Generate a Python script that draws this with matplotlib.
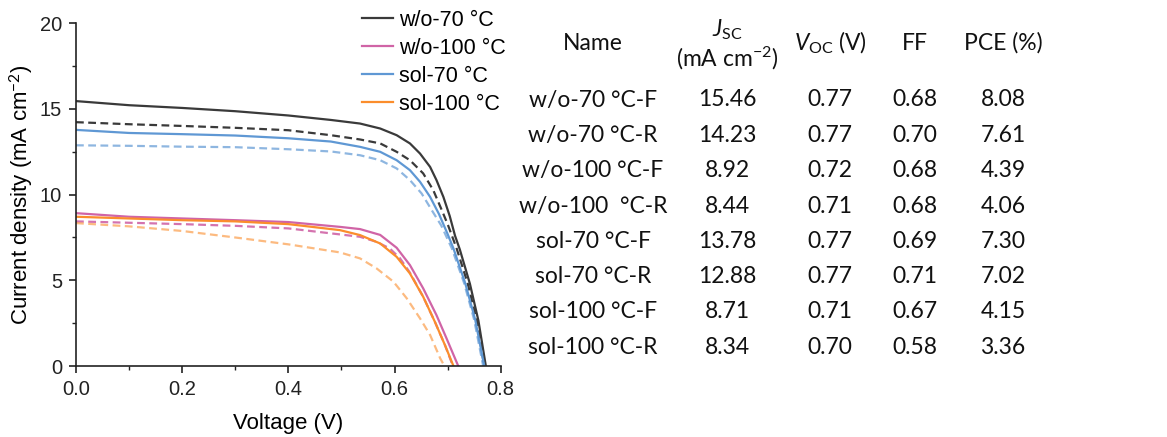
import matplotlib
matplotlib.use("Agg")
import matplotlib.pyplot as plt
from matplotlib.ticker import MultipleLocator, FormatStrFormatter

plt.rcParams['mathtext.fontset'] = 'custom'
plt.rcParams['mathtext.rm'] = 'Lato'
plt.rcParams['mathtext.it'] = 'Lato:italic'
plt.rcParams['mathtext.bf'] = 'Lato:bold'

# ---- J-V curve data ----
v_w70_F = [0, 0.1, 0.2, 0.3, 0.4, 0.48, 0.535, 0.573, 0.604, 0.629, 0.648, 0.667, 0.679,
           0.692, 0.704, 0.714, 0.723, 0.742, 0.758, 0.772]
j_w70_F = [15.46, 15.22, 15.06, 14.87, 14.62, 14.36, 14.15, 13.86, 13.47, 12.99, 12.40, 11.62,
           10.85, 9.87, 8.75, 7.60, 6.80, 4.80, 2.65, 0.0]

v_w70_R = [0, 0.1, 0.2, 0.3, 0.4, 0.48, 0.535, 0.573, 0.604, 0.629, 0.654, 0.673, 0.689,
           0.701, 0.717, 0.738, 0.755, 0.769]
j_w70_R = [14.23, 14.11, 14.01, 13.90, 13.76, 13.47, 13.22, 12.99, 12.50, 12.01, 11.24, 10.26,
           9.10, 8.20, 6.86, 4.80, 2.65, 0.0]

v_w100_F = [0, 0.1, 0.2, 0.3, 0.4, 0.497, 0.535, 0.573, 0.604, 0.629, 0.654, 0.679, 0.698, 0.720]
j_w100_F = [8.92, 8.71, 8.61, 8.51, 8.40, 8.12, 7.99, 7.65, 6.90, 5.89, 4.53, 2.97, 1.61, 0.0]

v_w100_R = [0, 0.1, 0.2, 0.3, 0.4, 0.497, 0.535, 0.566, 0.591, 0.61, 0.629, 0.654, 0.676,
            0.695, 0.71]
j_w100_R = [8.44, 8.36, 8.28, 8.18, 8.03, 7.68, 7.54, 7.25, 6.86, 6.30, 5.45, 4.04, 2.58,
            1.22, 0.0]

v_s70_F = [0, 0.1, 0.2, 0.3, 0.4, 0.48, 0.535, 0.573, 0.604, 0.629, 0.648, 0.667, 0.684,
           0.700, 0.711, 0.733, 0.752, 0.769]
j_s70_F = [13.78, 13.60, 13.53, 13.45, 13.29, 13.10, 12.79, 12.50, 12.01, 11.43, 10.75, 9.87,
           8.85, 7.70, 6.86, 4.85, 2.70, 0.0]

v_s70_R = [0, 0.1, 0.2, 0.3, 0.4, 0.48, 0.535, 0.573, 0.604, 0.629, 0.651, 0.670, 0.688,
           0.708, 0.731, 0.750, 0.767]
j_s70_R = [12.88, 12.85, 12.80, 12.77, 12.65, 12.52, 12.30, 12.01, 11.53, 10.85, 10.07, 9.10,
           8.20, 6.86, 4.85, 2.70, 0.0]

v_s100_F = [0, 0.1, 0.2, 0.3, 0.4, 0.497, 0.535, 0.573, 0.604, 0.629, 0.654, 0.676, 0.695, 0.711]
j_s100_F = [8.71, 8.61, 8.51, 8.44, 8.28, 7.93, 7.64, 7.15, 6.37, 5.40, 4.04, 2.58, 1.22, 0.0]

v_s100_R = [0, 0.1, 0.2, 0.3, 0.4, 0.497, 0.535, 0.566, 0.598, 0.623, 0.648, 0.667, 0.686, 0.694]
j_s100_R = [8.34, 8.15, 7.88, 7.50, 7.10, 6.63, 6.28, 5.70, 4.92, 3.95, 2.78, 1.81, 0.45, 0.0]

legend_labels = ["w/o-70 °C", "w/o-100 °C", "sol-70 °C", "sol-100 °C"]
colors = ["#3a3a3a", "#d064a6", "#5f98d4", "#fb8d2c"]

# ---- table data ----
tab_header = ["Name", "$J_{\\mathrm{SC}}$", "$V_{\\mathrm{OC}}$ (V)", "FF", "PCE (%)"]
tab_names = ["w/o-70 °C-F", "w/o-70 °C-R", "w/o-100 °C-F", "w/o-100  °C-R",
             "sol-70 °C-F", "sol-70 °C-R", "sol-100 °C-F", "sol-100 °C-R"]
tab_jsc = ["15.46", "14.23", "8.92", "8.44", "13.78", "12.88", "8.71", "8.34"]
tab_voc = ["0.77", "0.77", "0.72", "0.71", "0.77", "0.77", "0.71", "0.70"]
tab_ff = ["0.68", "0.70", "0.68", "0.68", "0.69", "0.71", "0.67", "0.58"]
tab_pce = ["8.08", "7.61", "4.39", "4.06", "7.30", "7.02", "4.15", "3.36"]

W, H = 1167, 437
fig = plt.figure(figsize=(W / 100, H / 100), dpi=100)
ax = fig.add_axes([76 / W, 1 - 366 / H, (500.7 - 76) / W, (366 - 23.3) / H])

lw = 1.6
dash = (3.5, 2.0)
curves = [
    (v_w70_F, j_w70_F, colors[0], '-', 1.0),
    (v_w70_R, j_w70_R, colors[0], '--', 1.0),
    (v_w100_F, j_w100_F, colors[1], '-', 1.0),
    (v_w100_R, j_w100_R, colors[1], '--', 0.9),
    (v_s70_F, j_s70_F, colors[2], '-', 1.0),
    (v_s70_R, j_s70_R, colors[2], '--', 0.7),
    (v_s100_F, j_s100_F, colors[3], '-', 1.0),
    (v_s100_R, j_s100_R, colors[3], '--', 0.6),
]
handles = {}
for v, j, c, ls, a in curves:
    if ls == '--':
        ax.plot(v, j, color=c, lw=lw, alpha=a, dashes=dash)
    else:
        ln, = ax.plot(v, j, color=c, lw=lw, alpha=a)
        handles[c] = ln

ax.set_xlim(0, 0.8)
ax.set_ylim(0, 20)
ax.xaxis.set_major_locator(MultipleLocator(0.2))
ax.xaxis.set_minor_locator(MultipleLocator(0.1))
ax.yaxis.set_major_locator(MultipleLocator(5))
ax.yaxis.set_minor_locator(MultipleLocator(2.5))
ax.xaxis.set_major_formatter(FormatStrFormatter('%.1f'))
for s in ['top', 'right']:
    ax.spines[s].set_visible(False)
for s in ['left', 'bottom']:
    ax.spines[s].set_linewidth(1.2)
    ax.spines[s].set_color('#222222')
ax.tick_params(which='major', direction='out', length=5, width=1.2, labelsize=14.5,
               colors='#222222', pad=5)
ax.tick_params(which='minor', direction='out', length=3, width=1.0, colors='#222222')
for lab in ax.get_xticklabels() + ax.get_yticklabels():
    lab.set_fontfamily('Liberation Sans')
ax.set_xlabel("Voltage (V)", fontsize=16, family='Liberation Sans', va='center')
ax.xaxis.set_label_coords(0.5, (366 - 423) / (366 - 23.3))
ax.set_ylabel("Current density (mA cm$^{-2}$)", fontsize=16, family='Liberation Sans',
              va='center')
ax.yaxis.set_label_coords((22 - 76) / (500.7 - 76), 0.5)

leg = ax.legend([handles[c] for c in colors], legend_labels, loc='upper left',
                bbox_to_anchor=(362 / W, 1 - 10 / H), bbox_transform=fig.transFigure,
                frameon=False, borderpad=0, borderaxespad=0, handlelength=1.44,
                handletextpad=0.3, labelspacing=0.32,
                prop={'family': 'Liberation Sans', 'size': 15.5})

# ---- table ----
col_x = [593, 727, 830, 915, 1003]
row_y = [100, 135.3, 170.6, 206, 241.3, 276.6, 312, 347.3]
tfs = 16.5
tkw = dict(ha='center', va='center', fontsize=tfs, family='Lato', color='#111111')


def ftxt(x, y, s, **kw):
    d = dict(tkw)
    d.update(kw)
    fig.text(x / W, 1 - y / H, s, **d)


ftxt(col_x[0], 43, tab_header[0])
ftxt(col_x[1], 30, tab_header[1])
ftxt(col_x[1], 58, "(mA cm$^{\u22122}$)")
ftxt(col_x[2], 43, tab_header[2])
ftxt(col_x[3], 43, tab_header[3])
ftxt(col_x[4], 43, tab_header[4])
for i in range(len(tab_names)):
    ftxt(col_x[0], row_y[i], tab_names[i])
    ftxt(col_x[1], row_y[i], tab_jsc[i])
    ftxt(col_x[2], row_y[i], tab_voc[i])
    ftxt(col_x[3], row_y[i], tab_ff[i])
    ftxt(col_x[4], row_y[i], tab_pce[i])

fig.savefig("out.png", dpi=100)
